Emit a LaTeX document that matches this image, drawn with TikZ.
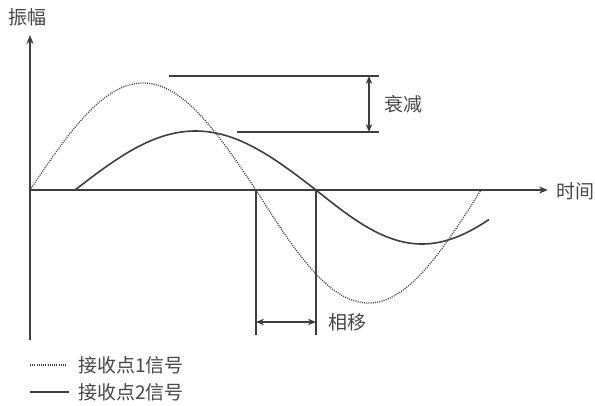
\documentclass[tikz,border=0pt]{standalone}
\usepackage{fontspec}
\newfontfamily\cjk{Noto Sans CJK SC}
\usetikzlibrary{arrows.meta}
\definecolor{lc}{RGB}{62,62,62}
\definecolor{tc}{RGB}{70,70,70}
\begin{document}
\begin{tikzpicture}[x=1pt,y=-1pt,
  axis/.style={draw=lc, line width=1.7pt},
  arr/.style={-{Stealth[length=9pt,width=7pt]}},
  dbl/.style={draw=lc, line width=1.5pt, {Stealth[length=8pt,width=6.5pt]}-{Stealth[length=8pt,width=6.5pt]}},
  guide/.style={draw=lc, line width=1.3pt},
  sig1/.style={draw=lc, line width=1.3pt, dash pattern=on 1pt off 1.2pt},
  sig2/.style={draw=lc, line width=1.6pt},
  lbl/.style={font=\cjk\fontsize{19}{19}\selectfont, text=tc, inner sep=0pt}]
\useasboundingbox (0,0) rectangle (595,406);

% axes
\coordinate (O) at (30,190);
\coordinate (ytop) at (30,35);
\coordinate (ybot) at (30,340);
\coordinate (xend) at (548,190);
\draw[axis] (ybot) -- (O);
\draw[axis, arr] (O) -- (ytop);
\draw[axis, arr] (O) -- (xend);
\node[lbl] (amp) at (28,17) {振幅};
\node[lbl, anchor=west] (time) at (556,191) {时间};

% signal 1 (dotted)
\draw[sig1] plot[domain=30:256, samples=90] (\x, {190-107*sin((\x-30)/226*180)});
\draw[sig1] plot[domain=256:481, samples=90] (\x, {190+113*sin((\x-256)/225*180)});

% signal 2 (solid)
\draw[sig2] plot[domain=75:316, samples=90] (\x, {190-59*sin((\x-75)/241*180)});
\draw[sig2] plot[domain=316:489, samples=80] (\x, {190+54*sin((\x-316)/212*180)});

% attenuation
\coordinate (a1l) at (169,76);
\coordinate (a1r) at (379,76);
\coordinate (a2l) at (237,132);
\coordinate (a2r) at (379,132);
\draw[guide] (a1l) -- (a1r);
\draw[guide] (a2l) -- (a2r);
\coordinate (att1) at (369,76);
\coordinate (att2) at (369,132);
\draw[dbl] (att1) -- (att2);
\node[lbl] (attlbl) at (403,104) {衰减};

% phase shift
\coordinate (p1t) at (256,190);
\coordinate (p1b) at (256,335);
\coordinate (p2t) at (316,190);
\coordinate (p2b) at (316,335);
\draw[guide] (p1t) -- (p1b);
\draw[guide] (p2t) -- (p2b);
\coordinate (ph1) at (256,322);
\coordinate (ph2) at (316,322);
\draw[dbl] (ph1) -- (ph2);
\node[lbl] (phlbl) at (347,322) {相移};

% legend
\coordinate (l1a) at (30,365);
\coordinate (l1b) at (67,365);
\coordinate (l2a) at (30,392);
\coordinate (l2b) at (69,392);
\draw[sig1] (l1a) -- (l1b);
\draw[sig2] (l2a) -- (l2b);
\node[lbl, anchor=west] (leg1) at (78,365) {接收点1信号};
\node[lbl, anchor=west] (leg2) at (78,392) {接收点2信号};
\end{tikzpicture}
\end{document}
